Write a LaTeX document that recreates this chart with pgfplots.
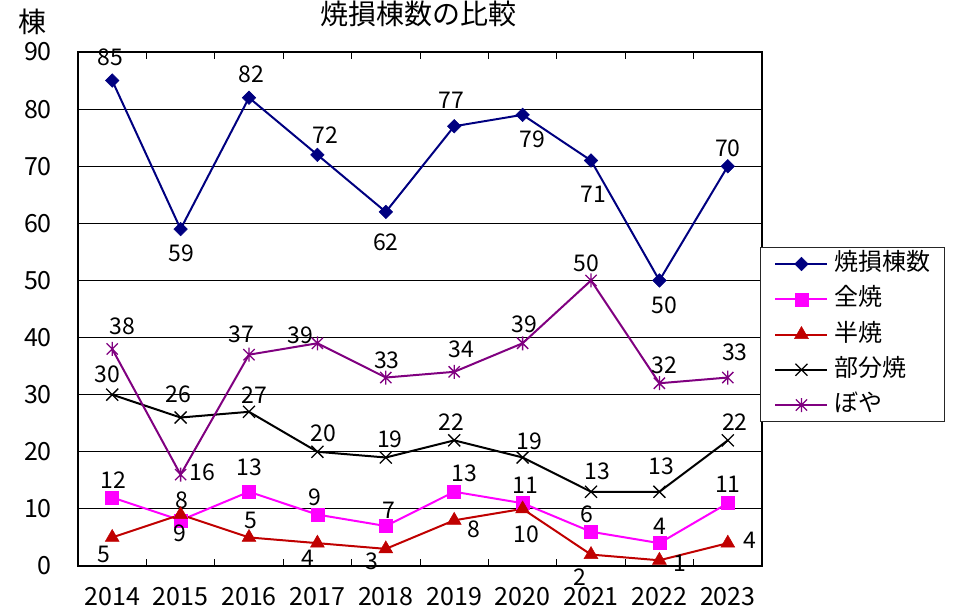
\documentclass[border=0pt]{standalone}
\usepackage{fontspec}
\setmainfont{Noto Sans CJK JP}
\usepackage{pgfplots}
\usepackage{pgfplotstable}
\pgfplotsset{compat=1.18}
\definecolor{cnavy}{HTML}{000080}
\definecolor{cmag}{HTML}{FF00FF}
\definecolor{cred}{HTML}{C00000}
\definecolor{cpur}{HTML}{800080}
\pgfdeclareplotmark{xstar}{%
 \pgfpathmoveto{\pgfqpoint{0pt}{\pgfplotmarksize}}%
 \pgfpathlineto{\pgfqpoint{0pt}{-\pgfplotmarksize}}%
 \pgfpathmoveto{\pgfqpoint{-.8\pgfplotmarksize}{-.8\pgfplotmarksize}}%
 \pgfpathlineto{\pgfqpoint{.8\pgfplotmarksize}{.8\pgfplotmarksize}}%
 \pgfpathmoveto{\pgfqpoint{-.8\pgfplotmarksize}{.8\pgfplotmarksize}}%
 \pgfpathlineto{\pgfqpoint{.8\pgfplotmarksize}{-.8\pgfplotmarksize}}%
 \pgfusepathqstroke}
\pgfplotstableread{
x y dx dy
0 85 -2 23
1 59 1 -24
2 82 2 23
3 72 8 20
4 62 0 -30
5 77 -3 26
6 79 10 -24
7 71 2 -34
8 50 5 -25
9 70 0 18
}\tsoku
\pgfplotstableread{
x y dx dy
0 12 1 17
1 8 1 20
2 13 0 24
3 9 -3 17
4 7 3 16
5 13 10 18
6 11 3 18
7 6 -4 17
8 4 0 17
9 11 0 19
}\tzen
\pgfplotstableread{
x y dx dy
0 5 -8 -17
1 9 -1 -19
2 5 2 17
3 4 -10 -15
4 3 -14 -12
5 8 20 -9
6 10 4 -25
7 2 -11 -23
8 1 20 -3
9 4 22 3
}\then
\pgfplotstableread{
x y dx dy
0 30 -5 20
1 26 -2 23
2 27 5 17
3 20 6 18
4 19 4 18
5 22 -3 18
6 19 7 16
7 13 6 20
8 13 2 25
9 22 7 18
}\tbubun
\pgfplotstableread{
x y dx dy
0 38 10 23
1 16 22 2
2 37 -8 20
3 39 -17 8
4 33 1 17
5 34 7 23
6 39 2 19
7 50 -5 17
8 32 5 18
9 33 7 25
}\tboya
\begin{document}
\begin{tikzpicture}
\path[use as bounding box] (0,0) rectangle (955pt,611pt);
\begin{axis}[
  at={(78pt,45pt)}, anchor=south west,
  scale only axis, width=684pt, height=514pt,
  xmin=-0.5, xmax=9.5, ymin=0, ymax=90,
  ytick={0,10,...,90},
  xtick={-0.5,0.5,...,9.5}, xticklabels={},
  extra x ticks={0,...,9},
  extra x tick labels={2014,2015,2016,2017,2018,2019,2020,2021,2022,2023},
  extra x tick style={major tick length=0pt},
  ymajorgrids, major grid style={black, line width=0.8pt},
  axis line style={black, line width=1.3pt},
  tick style={black, line width=1pt},
  major tick length=7pt, tick align=inside,
  /pgf/number format/assume math mode=true,
  ticklabel style={font=\fontsize{25pt}{30pt}\selectfont, inner sep=0pt},
  xticklabel style={anchor=north, yshift=-21pt},
  yticklabel style={anchor=east, xshift=-26pt},
  clip=false,
  every axis plot/.append style={line width=2pt},
  point meta=y,
  nodes near coords,
  visualization depends on={\thisrow{dx}\as\mydx},
  visualization depends on={\thisrow{dy}\as\mydy},
  every node near coord/.append style={font=\fontsize{23pt}{27pt}\selectfont, black, anchor=center, inner sep=0pt, xshift=\mydx pt, yshift=\mydy pt},
  legend cell align=left,
  legend image code/.code={\draw[mark repeat=2,mark phase=2,#1] plot coordinates {(0pt,0pt)(26pt,0pt)(52pt,0pt)};},
  legend style={at={(axis description cs:0.997,0.6206)}, anchor=north west, draw=black!85, line width=1pt, fill=white,
    font=\fontsize{24pt}{28pt}\selectfont, inner xsep=14pt, inner ysep=4pt, row sep=10.25pt, column sep=6pt,
    nodes={inner sep=0pt, text height=19pt, text depth=6pt}},
]
\addplot[cnavy, mark=square*, mark size=4.8pt, mark options={rotate=45, line width=0.5pt}] table[x=x,y=y] {\tsoku};
\addlegendentry{焼損棟数}
\addplot[cmag, mark=square*, mark size=6.5pt, mark options={line width=0.5pt}] table[x=x,y=y] {\tzen};
\addlegendentry{全焼}
\addplot[cred, mark=triangle*, mark size=8pt, mark options={line width=0.5pt}] table[x=x,y=y] {\then};
\addlegendentry{半焼}
\addplot[black, mark=x, mark size=8.5pt, mark options={line width=1.3pt}] table[x=x,y=y] {\tbubun};
\addlegendentry{部分焼}
\addplot[cpur, mark=xstar, mark size=7pt, mark options={line width=1.3pt}] table[x=x,y=y] {\tboya};
\addlegendentry{ぼや}
\end{axis}
\node[font=\fontsize{28pt}{32pt}\selectfont, anchor=center] at (418pt,597pt) {焼損棟数の比較};
\node[font=\fontsize{28pt}{32pt}\selectfont, anchor=center] at (32pt,589pt) {棟};
\end{tikzpicture}
\end{document}
